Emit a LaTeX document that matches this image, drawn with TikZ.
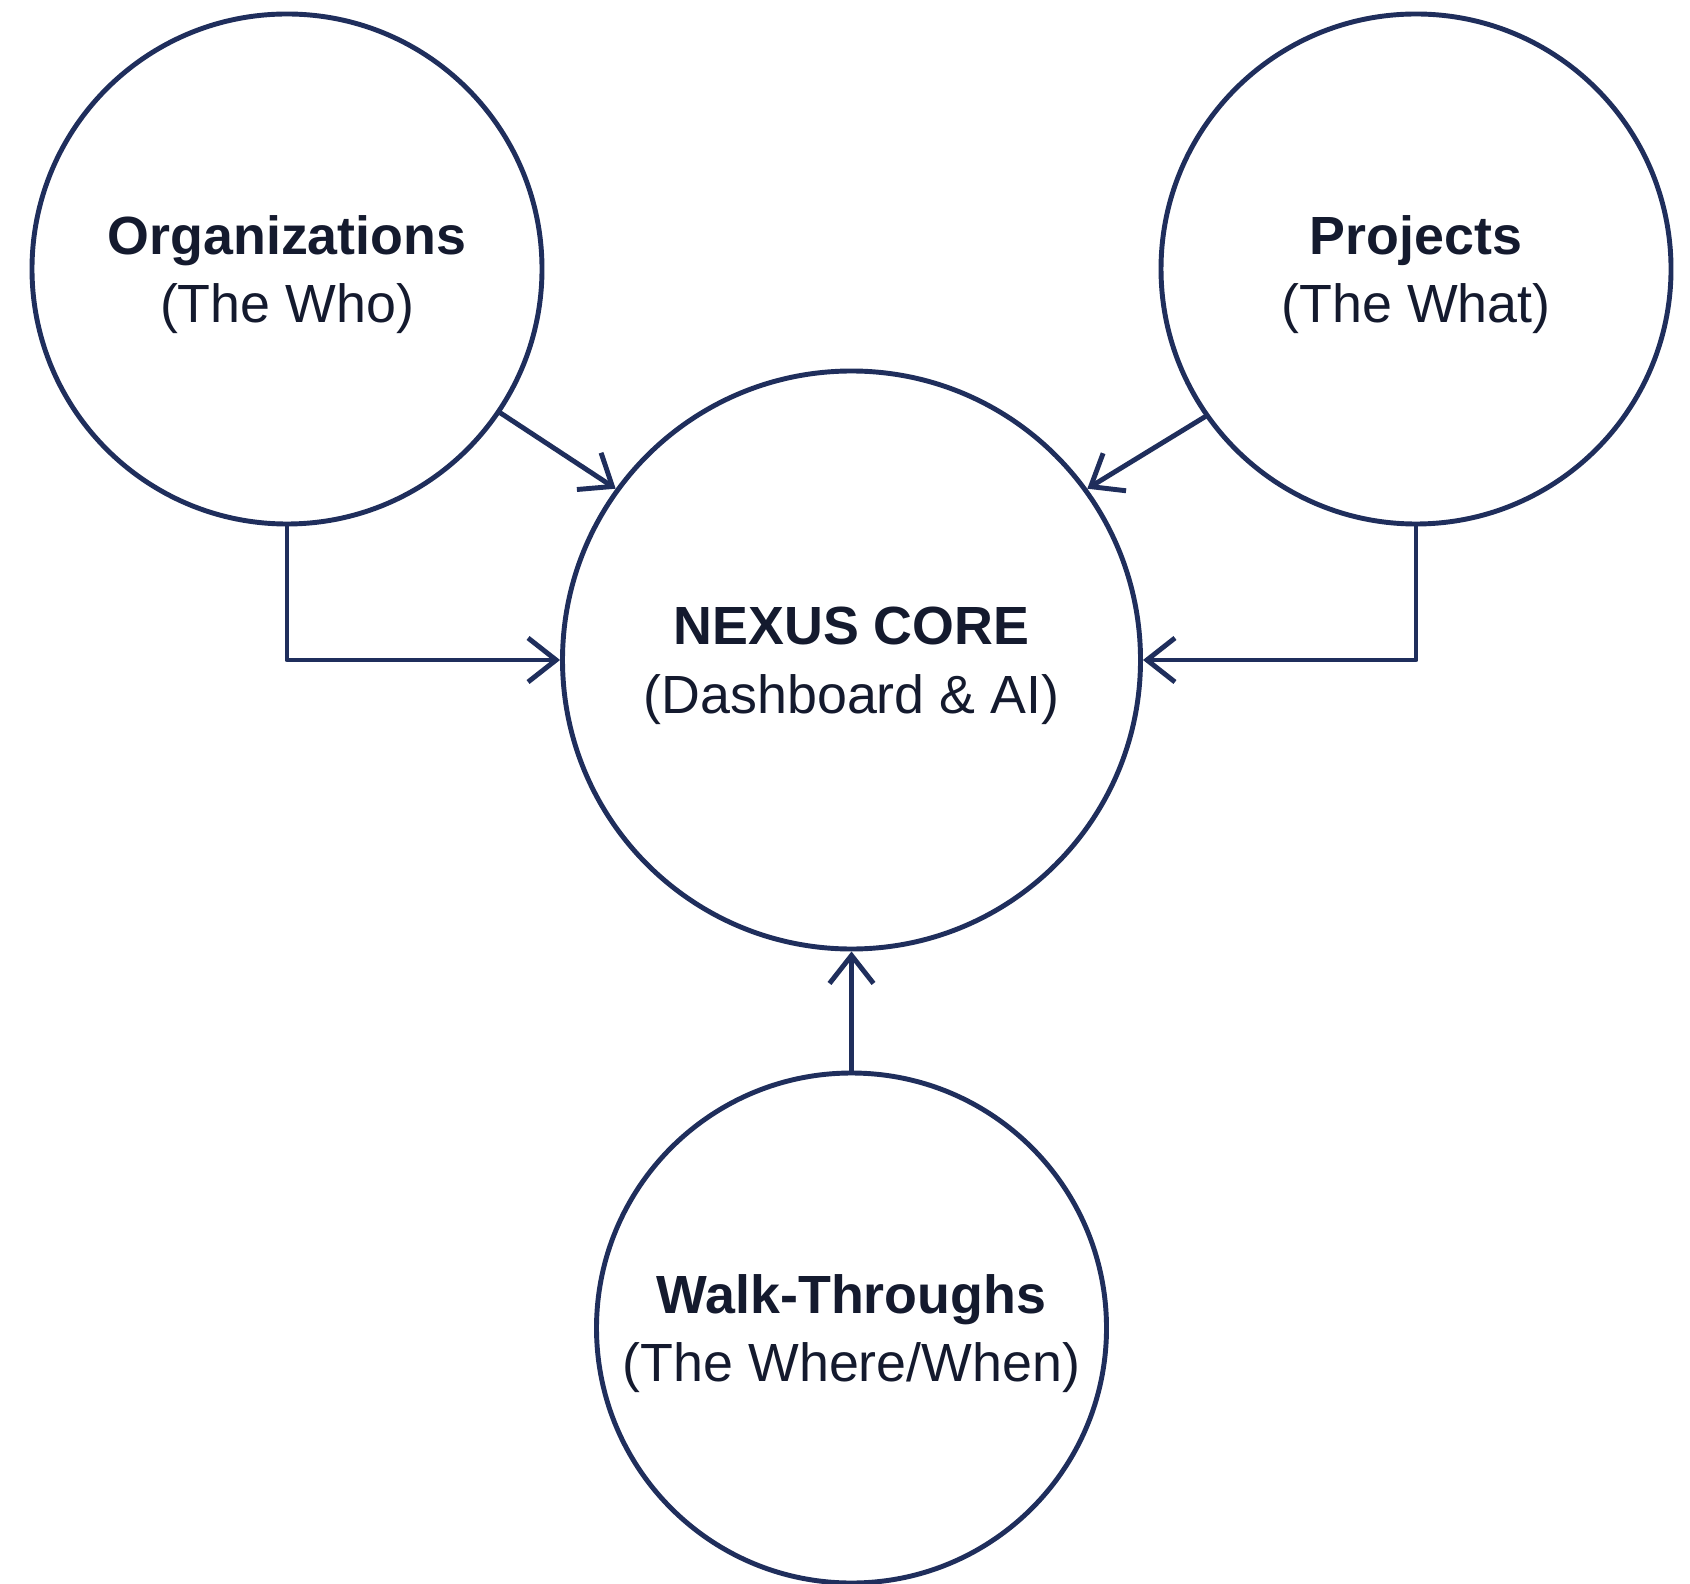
\documentclass[tikz,border=0pt]{standalone}
\usepackage{fontspec}
\setmainfont{Liberation Sans}
\usepackage{tikz}
\usepackage{xcolor}
\usetikzlibrary{arrows.meta}
\definecolor{navy}{HTML}{1F2E5C}
\definecolor{ink}{HTML}{141A2E}
\tikzstyle{spoke} = [circle, draw=navy, line width=1.4pt, fill=white, minimum size=5.1cm, inner sep=0pt, align=center, text=ink, text depth=0pt, font=\fontsize{15.3}{19.5}\selectfont]
\tikzstyle{hub} = [spoke, minimum size=5.78cm]

\begin{document}
\begin{tikzpicture}[-{Straight Barb[length=2.8mm,width=4.4mm]},line cap=round,line join=round,draw=navy,line width=1.4pt,node distance=5.645cm]
  \useasboundingbox (0,0) rectangle (16.9,-15.83);
  \node[hub] (Nexus) at (8.515,-6.6) {\textbf{NEXUS CORE}\\(Dashboard \& AI)};
  \node[spoke] (Org) [left of=Nexus, yshift=3.91cm] {\textbf{Organizations}\\(The Who)};
  \node[spoke] (Proj) [right of=Nexus, yshift=3.91cm] {\textbf{Projects}\\(The What)};
  \node[spoke] (Walk) [below of=Nexus, node distance=6.68cm] {\textbf{Walk-Throughs}\\(The Where/When)};

  \draw (Org.-34.5) -- (Nexus.144);
  \draw (Proj.-145.5) -- (Nexus.36);
  \draw (Org.south) |- (Nexus.west);
  \draw (Proj.south) |- (Nexus.east);
  \draw (Walk.north) -- (Nexus.south);
\end{tikzpicture}
\end{document}
